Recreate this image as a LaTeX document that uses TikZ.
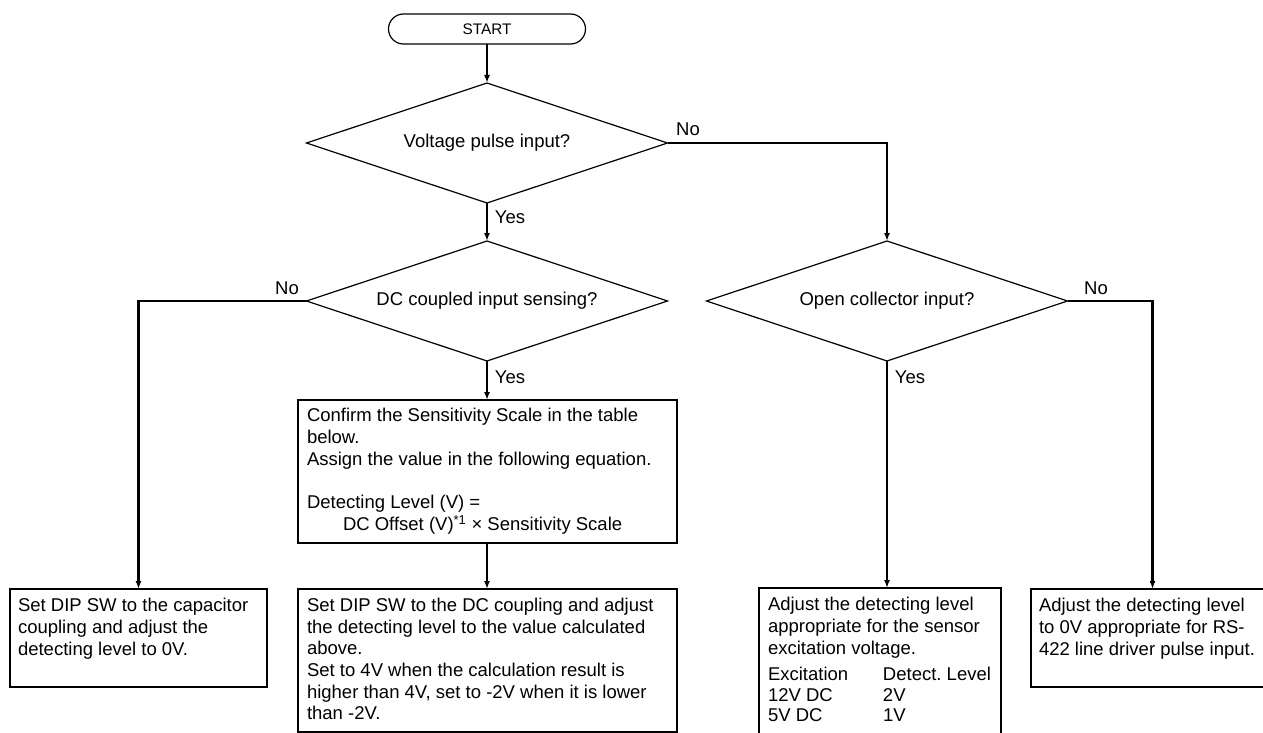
\documentclass[tikz,border=0pt]{standalone}
\usepackage{fontspec}
\setmainfont{Liberation Sans}
\frenchspacing
\usetikzlibrary{shapes.geometric,arrows.meta}
\begin{document}
\begin{tikzpicture}[x=1pt,y=-1pt,
  every node/.style={inner sep=0pt,outer sep=0pt},
  txt/.style={font=\fontsize{18.5}{21.7}\selectfont},
  startbox/.style={draw,line width=1.2pt,rectangle,rounded corners=15pt,minimum width=197pt,minimum height=30pt,font=\fontsize{15.3}{18}\selectfont},
  decision/.style={draw,line width=1.2pt,diamond,aspect=3,minimum width=361pt,minimum height=120pt,txt},
  procbox/.style={draw,line width=1.2pt,rectangle},
  boxtext/.style={txt,anchor=north west,align=left},
  lbl/.style={txt},
  arr/.style={line width=2.2pt,-{Latex[length=8pt,width=6pt]}}
]
\useasboundingbox (0,0) rectangle (1263,733);
\clip (0,0) rectangle (1263,733);

% start and decisions
\node[startbox] (start) at (487,29) {START};
\node[decision] (d1) at (487,143) {Voltage pulse input?};
\node[decision] (d2) at (487,301) {DC coupled input sensing?};
\node[decision] (d3) at (887,301) {Open collector input?};

% process boxes
\node[procbox,minimum width=257pt,minimum height=98pt] (b1) at (138.5,638) {};
\node[procbox,minimum width=379pt,minimum height=143pt] (b2) at (487.5,471.5) {};
\node[procbox,minimum width=379pt,minimum height=143pt] (b3) at (487.5,660.5) {};
\node[procbox,minimum width=242pt,minimum height=172pt] (b4) at (880,674) {};
\node[procbox,minimum width=243pt,minimum height=98pt] (b5) at (1152.5,638) {};

% box texts
\node[boxtext] (t1) at ([shift={(8,9.5)}]b1.north west)
  {Set DIP SW to the capacitor\\coupling and adjust the\\detecting level to 0V.};
\node[boxtext] (t2) at ([shift={(9,8.5)}]b2.north west)
  {Confirm the Sensitivity Scale in the table\\below.\\Assign the value in the following equation.\\[21.7pt]Detecting Level (V) =\\\hspace*{36pt}DC Offset (V)\textsuperscript{*1} × Sensitivity Scale};
\node[boxtext] (t3) at ([shift={(9,9)}]b3.north west)
  {Set DIP SW to the DC coupling and adjust\\the detecting level to the value calculated\\above.\\Set to 4V when the calculation result is\\higher than 4V, set to -2V when it is lower\\than -2V.};
\node[boxtext] (t4) at ([shift={(9,9.5)}]b4.north west)
  {Adjust the detecting level\\appropriate for the sensor\\excitation voltage.\\[4pt]\makebox[115pt][l]{Excitation}Detect.\ Level\\\makebox[115pt][l]{12V DC}2V\\[-1.5pt]\makebox[115pt][l]{5V DC}1V};
\node[boxtext] (t5) at ([shift={(8,9.5)}]b5.north west)
  {Adjust the detecting level\\to 0V appropriate for RS-\\422 line driver pulse input.};

% connectors
\draw[arr] (start.south) -- (d1.north);
\draw[arr] (d1.south) -- (d2.north);
\draw[arr] (d1.east) -| (d3.north);
\draw[arr] (d2.west) -| (b1.north);
\draw[arr] (d2.south) -- (d2.south |- b2.north);
\draw[arr] (d2.south |- b2.south) -- (d2.south |- b3.north);
\draw[arr] (d3.south) -- (d3.south |- b4.north);
\draw[arr] (d3.east) -| (b5.north);

% labels
\node[lbl] (no1) at (688,129) {No};
\node[lbl] (yes1) at (510,217) {Yes};
\node[lbl] (no2) at (287,288) {No};
\node[lbl] (yes2) at (510,377) {Yes};
\node[lbl] (no3) at (1096,288) {No};
\node[lbl] (yes3) at (910,377) {Yes};
\end{tikzpicture}
\end{document}
